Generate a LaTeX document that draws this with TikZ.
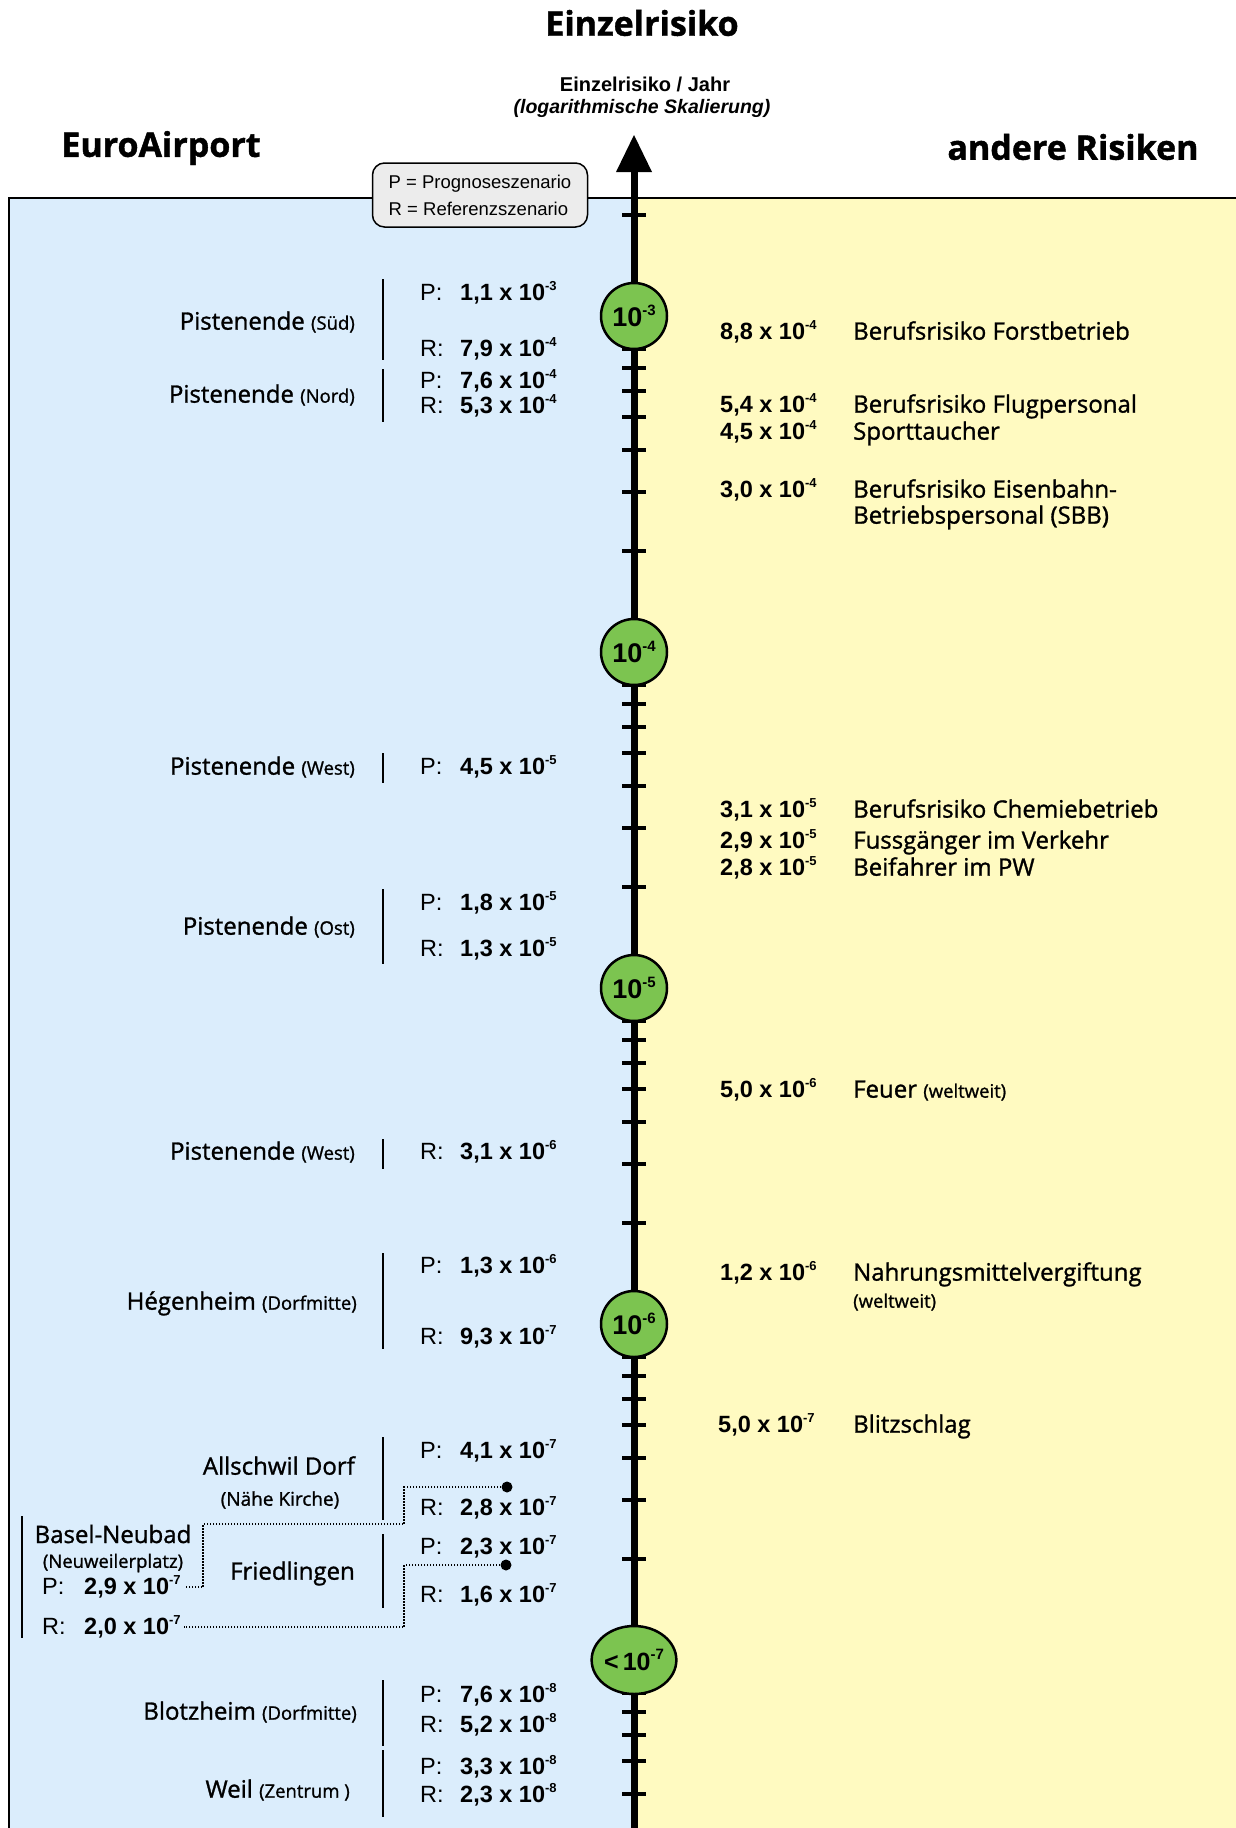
\documentclass[tikz,border=0pt]{standalone}
\usepackage{fontspec}
\setmainfont{Liberation Sans}
\newfontfamily\lab[FakeBold=1.2]{Open Sans}
\usetikzlibrary{shapes.geometric}
\definecolor{pblue}{RGB}{219,237,252}
\definecolor{pyellow}{RGB}{255,250,193}
\definecolor{cgreen}{RGB}{124,196,80}
\definecolor{lgray}{RGB}{236,236,236}
\newcommand\sci[2]{#1 x 10\raisebox{0.42em}{\fontsize{13}{13}\selectfont #2}}
\newcommand\cex[1]{\raisebox{0.42em}{\fontsize{15}{15}\selectfont #1}}
\newcommand\sm[1]{{\fontsize{18.5}{20}\selectfont #1}}
\tikzset{
 lbl/.style={font=\lab\fontsize{24}{28}\selectfont, inner sep=0, anchor=mid east, yshift=-5},
 rname/.style={font=\lab\fontsize{24}{28}\selectfont, inner sep=0, anchor=mid west, yshift=-5},
 val/.style={font=\fontsize{23.5}{27}\selectfont\bfseries, inner sep=0, anchor=mid west, yshift=-5},
 pr/.style={font=\fontsize{23.5}{27}\selectfont, inner sep=0, anchor=mid west, yshift=-5},
 txt/.style={inner sep=0, yshift=-5},
 vbar/.style={line width=2.5},
 dec/.style={circle, draw, line width=2.5, fill=cgreen, minimum size=66, inner sep=0, font=\fontsize{27}{30}\selectfont\bfseries},
 tickl/.style={line width=4},
 head/.style={font=\lab\bfseries\fontsize{34}{40}\selectfont, inner sep=0},
 dotl/.style={line width=1.5, dash pattern=on 1.5pt off 1.5pt},
 dotc/.style={circle, fill, inner sep=0, minimum size=11},
}
\begin{document}
\begin{tikzpicture}[x=1pt,y=-1pt]
\useasboundingbox (0,0) rectangle (1236,1828);
\fill[white] (0,0) rectangle (1236,1828);
\fill[pblue] (9,198) rectangle (634,1828);
\fill[pyellow] (634,198) rectangle (1236,1828);
\draw[line width=2] (9,1828) -- (9,198) -- (1236,198);

% headings
\node[head] (title) at (642,23) {Einzelrisiko};
\node[font=\fontsize{20}{22}\selectfont\bfseries, inner sep=0] (axl1) at (645,84) {Einzelrisiko / Jahr};
\node[font=\fontsize{19.5}{22}\selectfont\bfseries\itshape, inner sep=0] (axl2) at (642,108) {(logarithmische Skalierung)};
\node[head] (ea) at (161,148) {EuroAirport};
\node[head] (ar) at (1073,147) {andere Risiken};

% axis
\begin{scope}
\clip (0,0) rectangle (1236,1828);
\draw[line width=7] (634,1830) -- (634,168);
\fill (634,135) -- (652,172) -- (616,172) -- cycle;
\draw[tickl] (622,215) -- (646,215);
\foreach \d in {0,...,4}{
  \foreach \k in {2,...,9}{
    \pgfmathsetmacro\yy{316+336*\d+336*(1-log10(\k))}
    \draw[tickl] (622,\yy) -- (646,\yy);
  }
}
\end{scope}
\node[dec] (c3) at (634,316) {10\cex{-3}};
\node[dec] (c4) at (634,652) {10\cex{-4}};
\node[dec] (c5) at (634,988) {10\cex{-5}};
\node[dec] (c6) at (634,1324) {10\cex{-6}};
\node[dec, ellipse, minimum width=72, minimum height=68, font=\fontsize{25}{28}\selectfont\bfseries] (c7) at (634,1660) {<\,10\cex{-7}};

% legend
\node[draw, line width=1.5, fill=lgray, rounded corners=12, minimum width=215, minimum height=64, inner sep=0, align=left, font=\fontsize{18.5}{27}\selectfont] (leg) at (480,195) {P = Prognoseszenario\\R = Referenzszenario};

% ---- left side
\node[lbl] (l1) at (355,322) {Pistenende \sm{(Süd)}};
\draw[vbar] (383,279) -- (383,360);
\node[pr] (l1p) at (420,293) {P:};
\node[val] (l1pv) at (460,293) {\sci{1,1}{-3}};
\node[pr] (l1r) at (420,349) {R:};
\node[val] (l1rv) at (460,349) {\sci{7,9}{-4}};

\node[lbl] (l2) at (355,395) {Pistenende \sm{(Nord)}};
\draw[vbar] (383,369) -- (383,422);
\node[pr] (l2p) at (420,381) {P:};
\node[val] (l2pv) at (460,381) {\sci{7,6}{-4}};
\node[pr] (l2r) at (420,406) {R:};
\node[val] (l2rv) at (460,406) {\sci{5,3}{-4}};

\node[lbl] (l3) at (355,767) {Pistenende \sm{(West)}};
\draw[vbar] (383,753) -- (383,783);
\node[pr] (l3p) at (420,767) {P:};
\node[val] (l3pv) at (460,767) {\sci{4,5}{-5}};

\node[lbl] (l4) at (355,927) {Pistenende \sm{(Ost)}};
\draw[vbar] (383,889) -- (383,964);
\node[pr] (l4p) at (420,903) {P:};
\node[val] (l4pv) at (460,903) {\sci{1,8}{-5}};
\node[pr] (l4r) at (420,949) {R:};
\node[val] (l4rv) at (460,949) {\sci{1,3}{-5}};

\node[lbl] (l5) at (355,1152) {Pistenende \sm{(West)}};
\draw[vbar] (383,1139) -- (383,1169);
\node[pr] (l5r) at (420,1152) {R:};
\node[val] (l5rv) at (460,1152) {\sci{3,1}{-6}};

\node[lbl] (l6) at (357,1302) {Hégenheim \sm{(Dorfmitte)}};
\draw[vbar] (383,1253) -- (383,1349);
\node[pr] (l6p) at (420,1266) {P:};
\node[val] (l6pv) at (460,1266) {\sci{1,3}{-6}};
\node[pr] (l6r) at (420,1337) {R:};
\node[val] (l6rv) at (460,1337) {\sci{9,3}{-7}};

\node[lbl] (l7) at (355,1467) {Allschwil Dorf};
\node[txt, font=\lab\fontsize{19}{22}\selectfont] (l7b) at (280,1495) {(Nähe Kirche)};
\draw[vbar] (383,1437) -- (383,1520);
\node[pr] (l7p) at (420,1451) {P:};
\node[val] (l7pv) at (460,1451) {\sci{4,1}{-7}};
\node[pr] (l7r) at (420,1508) {R:};
\node[val] (l7rv) at (460,1508) {\sci{2,8}{-7}};

\node[lbl] (l8) at (355,1572) {Friedlingen};
\draw[vbar] (383,1534) -- (383,1608);
\node[pr] (l8p) at (420,1547) {P:};
\node[val] (l8pv) at (460,1547) {\sci{2,3}{-7}};
\node[pr] (l8r) at (420,1595) {R:};
\node[val] (l8rv) at (460,1595) {\sci{1,6}{-7}};

\node[txt, font=\lab\fontsize{24}{28}\selectfont] (bn) at (113,1529) {Basel-Neubad};
\node[txt, font=\lab\fontsize{18.5}{22}\selectfont] (bnb) at (113,1558) {(Neuweilerplatz)};
\draw[vbar] (22,1516) -- (22,1638);
\node[pr] (bp) at (42,1587) {P:};
\node[val] (bpv) at (84,1587) {\sci{2,9}{-7}};
\node[pr] (br) at (42,1627) {R:};
\node[val] (brv) at (84,1627) {\sci{2,0}{-7}};

\node[dotc] (d1) at (507,1487) {};
\node[dotc] (d2) at (506,1565) {};
\draw[dotl] (d1.center) -| (404,1524) -- (203,1524) |- ([xshift=4]bpv.east);
\draw[dotl] (d2.center) -| (404,1600) |- ([xshift=3]brv.east);

\node[lbl] (l9) at (357,1712) {Blotzheim \sm{(Dorfmitte)}};
\draw[vbar] (383,1680) -- (383,1746);
\node[pr] (l9p) at (420,1695) {P:};
\node[val] (l9pv) at (460,1695) {\sci{7,6}{-8}};
\node[pr] (l9r) at (420,1725) {R:};
\node[val] (l9rv) at (460,1725) {\sci{5,2}{-8}};

\node[lbl] (l10) at (350,1790) {Weil \sm{(Zentrum )}};
\draw[vbar] (383,1750) -- (383,1817);
\node[pr] (l10p) at (420,1767) {P:};
\node[val] (l10pv) at (460,1767) {\sci{3,3}{-8}};
\node[pr] (l10r) at (420,1795) {R:};
\node[val] (l10rv) at (460,1795) {\sci{2,3}{-8}};

% ---- right side
\node[val] (r1v) at (720,332) {\sci{8,8}{-4}};
\node[rname] (r1) at (853,332) {Berufsrisiko Forstbetrieb};
\node[val] (r2v) at (720,405) {\sci{5,4}{-4}};
\node[rname] (r2) at (853,405) {Berufsrisiko Flugpersonal};
\node[val] (r3v) at (720,432) {\sci{4,5}{-4}};
\node[rname] (r3) at (853,432) {Sporttaucher};
\node[val] (r4v) at (720,490) {\sci{3,0}{-4}};
\node[rname] (r4) at (853,490) {Berufsrisiko Eisenbahn-};
\node[rname] (r4b) at (853,516) {Betriebspersonal (SBB)};
\node[val] (r5v) at (720,810) {\sci{3,1}{-5}};
\node[rname] (r5) at (853,810) {Berufsrisiko Chemiebetrieb};
\node[val] (r6v) at (720,841) {\sci{2,9}{-5}};
\node[rname] (r6) at (853,841) {Fussgänger im Verkehr};
\node[val] (r7v) at (720,868) {\sci{2,8}{-5}};
\node[rname] (r7) at (853,868) {Beifahrer im PW};
\node[val] (r8v) at (720,1090) {\sci{5,0}{-6}};
\node[rname] (r8) at (853,1090) {Feuer \sm{(weltweit)}};
\node[val] (r9v) at (720,1273) {\sci{1,2}{-6}};
\node[rname] (r9) at (853,1273) {Nahrungsmittelvergiftung};
\node[rname, font=\lab\fontsize{18.5}{22}\selectfont] (r9b) at (853,1300) {(weltweit)};
\node[val] (r10v) at (718,1425) {\sci{5,0}{-7}};
\node[rname] (r10) at (853,1425) {Blitzschlag};
\end{tikzpicture}
\end{document}
